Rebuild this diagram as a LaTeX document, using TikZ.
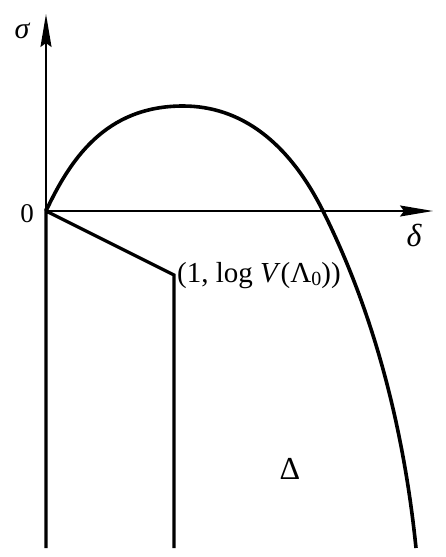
\documentclass[tikz,border=0pt]{standalone}
\usepackage{fontspec}
\setmainfont{Liberation Serif}
\usetikzlibrary{arrows.meta}
\begin{document}
\begin{tikzpicture}[x=1pt,y=-1pt,
  axis/.style={line width=1.8pt,-{Stealth[length=33pt,width=11pt,inset=4pt]}},
  bound/.style={line width=3.2pt},
  curvestyle/.style={line width=3.6pt},
  lbl/.style={inner sep=0pt}]
\useasboundingbox (0,0) rectangle (446,557);
\coordinate (O) at (46,211);
\coordinate (C) at (174,275);
\coordinate (B1) at (46,548);
\coordinate (B2) at (174,548);
\coordinate (Ytip) at (46,14);
\coordinate (Xtip) at (433,211);
\coordinate (P) at (183,106);
\coordinate (X) at (323,211);
\coordinate (E) at (416,548);
\draw[axis] (O) -- (Ytip);
\draw[axis] (O) -- (Xtip);
\draw[bound] (B1) -- (O) -- (C) -- (B2);
\draw[curvestyle] (O) .. controls (70,160) and (105,106) .. (P)
  .. controls (240,106) and (288,141) .. (X)
  .. controls (378,321) and (405,440) .. (E);
\node[lbl,font=\fontsize{30}{32}\selectfont\itshape] (sig) at (22,31) {σ};
\node[lbl,font=\fontsize{27}{30}\selectfont] (zero) at (27,214) {0};
\node[lbl,font=\fontsize{32}{34}\selectfont\itshape] (del) at (414,235) {δ};
\node[lbl,anchor=base west,font=\fontsize{29}{32}\selectfont] (pt) at (177,282) {(1, log \textit{V}(Λ\raisebox{-0.3ex}{\fontsize{20}{22}\selectfont 0}))};
\node[lbl,font=\fontsize{32}{34}\selectfont] (D) at (290,469) {Δ};
\end{tikzpicture}
\end{document}
